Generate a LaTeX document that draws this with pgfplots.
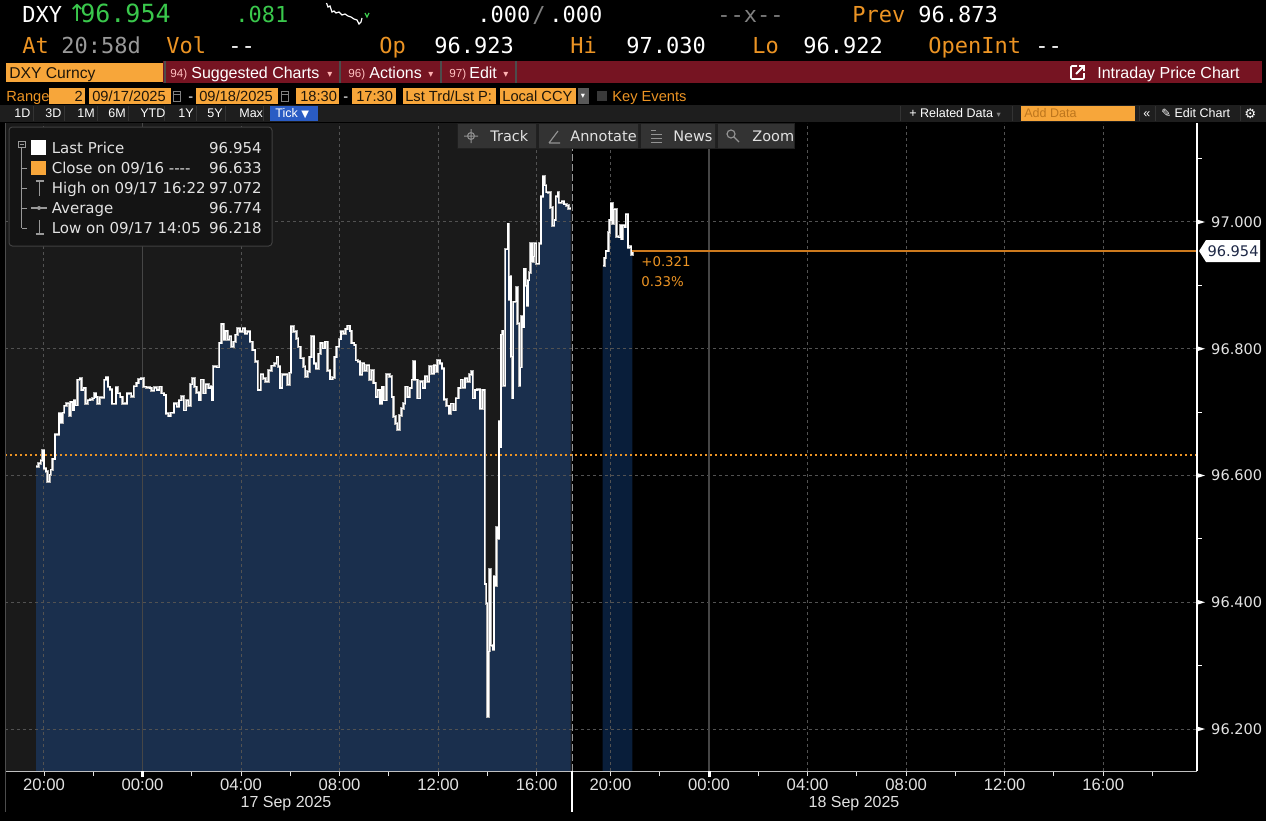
\documentclass[border=0pt]{standalone}
\usepackage{pgfplots}
\pgfplotsset{compat=1.18}
\usepackage{pgfplotstable}
\usepackage{fontspec}
\setmainfont{Liberation Sans}
\newfontfamily\dvs{DejaVu Sans}
\newfontfamily\mono{DejaVu Sans Mono}
\newcommand\fs[1]{\fontsize{#1}{#1}\selectfont}

\definecolor{bbOr}{RGB}{236,148,36}
\definecolor{bbLine}{RGB}{205,122,30}
\definecolor{bbBox}{RGB}{247,166,58}
\definecolor{bbGr}{RGB}{58,200,76}
\definecolor{bbRed}{RGB}{118,20,34}
\definecolor{bgL}{RGB}{26,26,26}
\definecolor{navyA}{RGB}{26,47,77}
\definecolor{navyB}{RGB}{9,30,58}
\definecolor{gridc}{RGB}{82,82,82}
\definecolor{txt}{RGB}{226,226,226}
\definecolor{strip}{RGB}{30,30,30}
\definecolor{tickblue}{RGB}{42,92,196}
\definecolor{boxtxt}{RGB}{30,22,10}
\definecolor{lbltxt}{RGB}{30,40,70}

\pgfplotstableread{
h v
-0.32 96.614
-0.23 96.619
-0.13 96.624
-0.07 96.640
0.00 96.611
0.08 96.606
0.15 96.590
0.22 96.601
0.28 96.609
0.35 96.626
0.45 96.665
0.61 96.698
0.69 96.683
0.76 96.699
0.82 96.710
0.92 96.714
1.02 96.695
1.08 96.716
1.15 96.703
1.22 96.719
1.29 96.711
1.37 96.751
1.46 96.753
1.53 96.735
1.60 96.738
1.69 96.714
1.77 96.719
1.87 96.720
1.96 96.722
2.04 96.730
2.11 96.724
2.18 96.714
2.25 96.723
2.34 96.723
2.44 96.751
2.52 96.755
2.60 96.740
2.68 96.736
2.76 96.713
2.85 96.713
2.92 96.739
3.00 96.730
3.09 96.724
3.18 96.713
3.29 96.714
3.37 96.729
3.46 96.730
3.54 96.725
3.65 96.741
3.76 96.746
3.84 96.752
3.94 96.753
4.03 96.740
4.17 96.739
4.28 96.738
4.37 96.734
4.47 96.739
4.58 96.735
4.68 96.740
4.78 96.730
4.87 96.727
4.95 96.698
5.05 96.694
5.14 96.699
5.28 96.714
5.39 96.709
5.48 96.719
5.59 96.725
5.68 96.703
5.77 96.719
5.86 96.710
5.94 96.744
6.02 96.753
6.12 96.740
6.20 96.731
6.29 96.719
6.37 96.751
6.47 96.730
6.57 96.744
6.67 96.738
6.77 96.741
6.82 96.719
6.87 96.772
7.01 96.771
7.11 96.809
7.21 96.839
7.28 96.814
7.35 96.828
7.44 96.814
7.52 96.819
7.60 96.803
7.69 96.811
7.78 96.822
7.86 96.832
7.96 96.827
8.07 96.832
8.16 96.824
8.25 96.827
8.36 96.811
8.46 96.798
8.57 96.780
8.68 96.735
8.80 96.759
8.90 96.753
9.00 96.748
9.11 96.766
9.24 96.773
9.35 96.777
9.45 96.787
9.51 96.772
9.58 96.738
9.67 96.759
9.78 96.759
9.88 96.743
9.96 96.762
10.03 96.835
10.12 96.827
10.26 96.816
10.32 96.803
10.42 96.785
10.53 96.772
10.60 96.756
10.69 96.764
10.77 96.787
10.87 96.819
10.96 96.777
11.04 96.769
11.14 96.792
11.23 96.809
11.32 96.801
11.41 96.811
11.50 96.766
11.61 96.752
11.71 96.755
11.79 96.787
11.88 96.803
11.98 96.815
12.06 96.827
12.15 96.824
12.25 96.831
12.33 96.836
12.42 96.828
12.49 96.809
12.59 96.806
12.66 96.782
12.74 96.780
12.83 96.759
12.92 96.777
13.00 96.766
13.10 96.774
13.20 96.751
13.28 96.766
13.37 96.746
13.47 96.724
13.55 96.735
13.64 96.714
13.72 96.740
13.80 96.719
13.91 96.760
14.02 96.756
14.12 96.724
14.18 96.693
14.28 96.682
14.34 96.672
14.43 96.695
14.51 96.706
14.59 96.714
14.66 96.740
14.75 96.724
14.83 96.738
14.93 96.751
14.99 96.780
15.06 96.751
15.16 96.722
15.27 96.748
15.38 96.738
15.47 96.756
15.56 96.748
15.64 96.772
15.74 96.761
15.83 96.774
15.92 96.764
15.98 96.782
16.08 96.777
16.16 96.769
16.24 96.720
16.35 96.710
16.44 96.698
16.52 96.713
16.62 96.703
16.72 96.722
16.82 96.738
16.92 96.751
17.00 96.739
17.09 96.753
17.19 96.748
17.27 96.759
17.34 96.764
17.41 96.722
17.50 96.735
17.59 96.736
17.70 96.706
17.80 96.735
17.88 96.732
17.90 96.429
17.95 96.398
18.01 96.220
18.05 96.323
18.08 96.452
18.14 96.332
18.22 96.326
18.27 96.441
18.32 96.426
18.38 96.518
18.43 96.501
18.47 96.685
18.51 96.645
18.55 96.822
18.61 96.828
18.66 96.742
18.72 96.957
18.79 96.957
18.83 96.997
18.87 96.877
18.92 96.914
18.96 96.788
19.01 96.722
19.05 96.874
19.14 96.874
19.19 96.897
19.23 96.840
19.29 96.742
19.33 96.771
19.38 96.851
19.44 96.834
19.49 96.926
19.54 96.900
19.60 96.868
19.65 96.908
19.70 96.920
19.76 96.966
19.81 96.937
19.87 96.946
19.92 96.966
19.98 96.934
20.04 96.934
20.10 96.966
20.18 97.040
20.26 97.072
20.33 97.058
20.39 97.047
20.49 97.046
20.56 97.023
20.64 96.994
20.71 97.003
20.78 97.040
20.86 97.046
20.90 97.030
21.02 97.032
21.11 97.028
21.22 97.026
21.30 97.021
21.38 97.021
}\dayone

\pgfplotstableread{
h v
22.68 96.931
22.75 96.943
22.81 96.954
22.91 96.983
22.95 97.003
23.02 97.029
23.07 96.997
23.13 97.020
23.20 97.020
23.25 96.977
23.33 96.976
23.39 96.994
23.45 96.973
23.50 96.994
23.56 96.992
23.62 97.012
23.68 97.012
23.71 96.960
23.80 96.961
23.84 96.949
23.89 96.954
}\daytwo

\begin{document}
\begin{tikzpicture}
\fill[black] (0,0) rectangle (759.6pt,-492.6pt);
\begin{scope}[x=0.6pt,y=-0.6pt]
% chart background (first session)
\fill[bgL] (5,123) rectangle (572,771);
% ---------- header row 1
\node[anchor=base west,inner sep=0,text=white,font=\mono\fs{13.2}] at (22,22) {DXY};
\node[anchor=base west,inner sep=0,text=bbGr,font=\dvs\fs{14}] at (67,21) {↑};
\node[anchor=base west,inner sep=0,text=bbGr,font=\mono\fs{15}] at (80,22) {96.954};
\node[anchor=base west,inner sep=0,text=bbGr,font=\mono\fs{13.2}] at (235,22) {.081};
\draw[white,line width=0.7pt] (326.5,3) -- (328,7) -- (330,6) -- (332,12) -- (334,11) -- (336,13) -- (339,12) -- (342,15) -- (345,14) -- (348,16) -- (351,17) -- (354,19) -- (357,20) -- (359,24) -- (361,22) -- (362,18);
\draw[bbGr,line width=0.7pt] (365,13) -- (367,17) -- (369,13);
\node[anchor=base west,inner sep=0,text=white,font=\mono\fs{13.2}] at (477,22) {.000};
\node[anchor=base west,inner sep=0,text=gray,font=\mono\fs{13.2}] at (532,22) {/};
\node[anchor=base west,inner sep=0,text=white,font=\mono\fs{13.2}] at (549,22) {.000};
\node[anchor=base west,inner sep=0,text=gray,font=\mono\fs{13.2}] at (717,22) {-{}-x-{}-};
\node[anchor=base west,inner sep=0,text=bbOr,font=\mono\fs{13.2}] at (852,22) {Prev};
\node[anchor=base west,inner sep=0,text=white,font=\mono\fs{13.2}] at (918,22) {96.873};
% ---------- header row 2
\node[anchor=base west,inner sep=0,text=bbOr,font=\mono\fs{13.2}] at (22,53) {At};
\node[anchor=base west,inner sep=0,text=gray!80,font=\mono\fs{13.2}] at (61,53) {20:58d};
\node[anchor=base west,inner sep=0,text=bbOr,font=\mono\fs{13.2}] at (166,53) {Vol};
\node[anchor=base west,inner sep=0,text=white,font=\mono\fs{13.2}] at (228,53) {-{}-};
\node[anchor=base west,inner sep=0,text=bbOr,font=\mono\fs{13.2}] at (379,53) {Op};
\node[anchor=base west,inner sep=0,text=white,font=\mono\fs{13.2}] at (434,53) {96.923};
\node[anchor=base west,inner sep=0,text=bbOr,font=\mono\fs{13.2}] at (570,53) {Hi};
\node[anchor=base west,inner sep=0,text=white,font=\mono\fs{13.2}] at (626,53) {97.030};
\node[anchor=base west,inner sep=0,text=bbOr,font=\mono\fs{13.2}] at (752,53) {Lo};
\node[anchor=base west,inner sep=0,text=white,font=\mono\fs{13.2}] at (803,53) {96.922};
\node[anchor=base west,inner sep=0,text=bbOr,font=\mono\fs{13.2}] at (928,53) {OpenInt};
\node[anchor=base west,inner sep=0,text=white,font=\mono\fs{13.2}] at (1035,53) {-{}-};
% ---------- row 3 : red menu bar
\fill[bbRed] (163,61) rectangle (1262,83);
\fill[bbBox] (6,63) rectangle (163,82);
\node[anchor=base west,inner sep=0,text=boxtxt,font=\fs{9.4}] at (9,78) {DXY Curncy};
\draw[black!70,line width=0.8pt] (340,61) -- (340,83) (441,61) -- (441,83) (516,61) -- (516,83) (165,61)--(165,83);
\node[anchor=base west,inner sep=0,text=red!25!white,font=\fs{7}] at (170,77) {94)};
\node[anchor=base west,inner sep=0,text=white,font=\fs{9.6}] at (191,78) {Suggested Charts};
\node[anchor=base west,inner sep=0,text=red!30!white,font=\dvs\fs{6}] at (327,77) {▾};
\node[anchor=base west,inner sep=0,text=red!25!white,font=\fs{7}] at (348,77) {96)};
\node[anchor=base west,inner sep=0,text=white,font=\fs{9.6}] at (369,78) {Actions};
\node[anchor=base west,inner sep=0,text=red!30!white,font=\dvs\fs{6}] at (428,77) {▾};
\node[anchor=base west,inner sep=0,text=red!25!white,font=\fs{7}] at (449,77) {97)};
\node[anchor=base west,inner sep=0,text=white,font=\fs{9.6}] at (469,78) {Edit};
\node[anchor=base west,inner sep=0,text=red!30!white,font=\dvs\fs{6}] at (503,77) {▾};
\draw[white,line width=1pt,rounded corners=0.6pt] (1077,66) -- (1071,66) -- (1071,79) -- (1084,79) -- (1084,73);
\draw[white,line width=1.1pt] (1076,74) -- (1084,66) (1079,66) -- (1084,66) -- (1084,71);
\node[anchor=base west,inner sep=0,text=white,font=\fs{9.6}] at (1097,78) {Intraday Price Chart};
% ---------- row 4
\node[anchor=base west,inner sep=0,text=bbOr,font=\fs{8.8}] at (6,101.5) {Range};
\fill[bbBox] (49,88) rectangle (85,104);
\node[anchor=base east,inner sep=0,text=boxtxt,font=\fs{8.8}] at (83,101.5) {2};
\fill[bbBox] (89,88) rectangle (171,104);
\node[anchor=base west,inner sep=0,text=boxtxt,font=\fs{8.8}] at (92,101.5) {09/17/2025};
\draw[gray,line width=0.6pt] (173,91) rectangle (180,101) (173,94)--(180,94);
\node[anchor=base west,inner sep=0,text=white,font=\fs{8.8}] at (188,101.5) {-};
\fill[bbBox] (196,88) rectangle (278,104);
\node[anchor=base west,inner sep=0,text=boxtxt,font=\fs{8.8}] at (199,101.5) {09/18/2025};
\draw[gray,line width=0.6pt] (281,91) rectangle (288,101) (281,94)--(288,94);
\fill[bbBox] (296,88) rectangle (339,104);
\node[anchor=base west,inner sep=0,text=boxtxt,font=\fs{8.8}] at (300,101.5) {18:30};
\node[anchor=base west,inner sep=0,text=white,font=\fs{8.8}] at (343,101.5) {-};
\fill[bbBox] (352,88) rectangle (396,104);
\node[anchor=base west,inner sep=0,text=boxtxt,font=\fs{8.8}] at (356,101.5) {17:30};
\fill[bbBox] (403,88) rectangle (496,104);
\node[anchor=base west,inner sep=0,text=boxtxt,font=\fs{8.8}] at (405,101.5) {Lst Trd/Lst P:};
\fill[bbBox] (500,88) rectangle (576,104);
\node[anchor=base west,inner sep=0,text=boxtxt,font=\fs{8.8}] at (502,101.5) {Local CCY};
\fill[gray!70!black] (578,88) rectangle (589,104);
\node[anchor=base west,inner sep=0,text=white,font=\dvs\fs{5}] at (580.5,98) {▾};
\fill[gray!45!black] (597,91) rectangle (607,101);
\node[anchor=base west,inner sep=0,text=bbOr,font=\fs{8.8}] at (612,101.5) {Key Events};
% ---------- row 5 strip
\fill[strip] (0,105) rectangle (1266,122);
\foreach \xx in {33,64,97,128,164,196,225,263,900,1012,1139,1155,1240}{\draw[black!80,line width=0.6pt] (\xx,106) -- (\xx,121);}
\node[anchor=base west,inner sep=0,text=white,font=\fs{7.5}] at (14,117.5) {1D};
\node[anchor=base west,inner sep=0,text=white,font=\fs{7.5}] at (45,117.5) {3D};
\node[anchor=base west,inner sep=0,text=white,font=\fs{7.5}] at (77,117.5) {1M};
\node[anchor=base west,inner sep=0,text=white,font=\fs{7.5}] at (108,117.5) {6M};
\node[anchor=base west,inner sep=0,text=white,font=\fs{7.5}] at (140,117.5) {YTD};
\node[anchor=base west,inner sep=0,text=white,font=\fs{7.5}] at (178,117.5) {1Y};
\node[anchor=base west,inner sep=0,text=white,font=\fs{7.5}] at (207,117.5) {5Y};
\node[anchor=base west,inner sep=0,text=white,font=\fs{7.5}] at (239,117.5) {Max};
\fill[tickblue] (270,106) rectangle (318,121);
\node[anchor=base west,inner sep=0,text=white,font=\fs{7.5}] at (275,117.5) {Tick \dvs\fs{6}▼};
\node[anchor=base west,inner sep=0,text=white,font=\fs{7.5}] at (909,117.5) {+ Related Data \textcolor{gray}{\dvs\fs{5}▾}};
\fill[bbBox] (1021,106) rectangle (1135,121);
\node[anchor=base west,inner sep=0,text=bbOr!80!black,font=\fs{7.5}] at (1024,117.5) {Add Data};
\node[anchor=base west,inner sep=0,text=white,font=\fs{7.5}] at (1143,117.5) {«};
\node[anchor=base west,inner sep=0,text=white,font=\fs{7.5}] at (1161,117.5) {{\dvs\fs{7}✎} Edit Chart};
\node[anchor=base west,inner sep=0,text=white,font=\dvs\fs{8}] at (1244,118) {⚙};
\end{scope}

\begin{axis}[
  at={(3pt,-462.6pt)}, anchor=south west,
  scale only axis, width=715.2pt, height=388.8pt,
  xmin=-1.583, xmax=46.81, ymin=96.134, ymax=97.156,
  clip=true,
  axis line style={draw=none},
  tick align=outside,
  xtick pos=bottom, ytick pos=right,
  xtick={0,4,8,12,16,20,23,27,31,35,39,43},
  xticklabels={20:00,00:00,04:00,08:00,12:00,16:00,20:00,00:00,04:00,08:00,12:00,16:00},
  minor xtick={2,6,10,14,18,25,29,33,37,41,45},
  major tick length=3pt, minor tick length=3pt,
  xtick style={draw=txt, line width=0.5pt},
  minor tick style={draw=txt, line width=0.5pt},
  ytick={96.2,96.4,96.6,96.8,97.0},
  ytick style={draw=none},
  yticklabel pos=right,
  /pgf/number format/assume math mode=true,
  yticklabel style={/pgf/number format/fixed, /pgf/number format/fixed zerofill, /pgf/number format/precision=3, anchor=west, font=\dvs\fs{8.75}, text=txt, xshift=2pt},
  xticklabel style={font=\fs{10}, text=txt, yshift=2pt},
]
% area fills
\addplot[const plot, fill=navyA, draw=none, forget plot] table[x=h,y=v]{\dayone} \closedcycle;
\addplot[const plot, fill=navyB, draw=none, forget plot] table[x=h,y=v]{\daytwo} \closedcycle;
% grid
\pgfplotsinvokeforeach{96.2,96.4,96.6,96.8,97.0}{\draw[gridc, line width=0.6pt, dash pattern=on 1.8pt off 1.8pt] (axis cs:-1.583,#1) -- (axis cs:46.81,#1);}
\pgfplotsinvokeforeach{0,8,12,16,20,23,31,35,39,43}{\draw[gridc, line width=0.6pt, dash pattern=on 1.8pt off 1.8pt] (axis cs:#1,96.134) -- (axis cs:#1,97.156);}
\pgfplotsinvokeforeach{4,27}{\draw[gray!55!black, line width=0.8pt] (axis cs:#1,96.134) -- (axis cs:#1,97.156);}
\draw[gray!80, line width=0.9pt, dash pattern=on 4pt off 2pt] (axis cs:21.45,96.134) -- (axis cs:21.45,97.156);
% close of 09/16
\addplot[bbOr, line width=1.3pt, dash pattern=on 1.2pt off 1.8pt] coordinates {(-1.583,96.633) (46.81,96.633)};
% price series
\addplot[const plot, gray!60, line width=1.5pt] table[x=h,y=v]{\dayone};
\addplot[const plot, white, line width=0.7pt] table[x=h,y=v]{\dayone};
\addplot[const plot, gray!60, line width=1.5pt] table[x=h,y=v]{\daytwo};
\addplot[const plot, white, line width=0.7pt] table[x=h,y=v]{\daytwo};
% last price line
\addplot[bbLine, line width=0.9pt] coordinates {(23.89,96.954) (46.81,96.954)};
\end{axis}

\begin{scope}[x=0.6pt,y=-0.6pt]
% axis lines
\draw[txt!85!black, line width=0.6pt] (5,771) -- (1197,771);
\draw[gray!60!black, line width=0.6pt] (5,123) -- (5,812);
\draw[white, line width=0.8pt] (1197,123) -- (1197,771);
\draw[white, line width=0.8pt] (572,771) -- (572,812);
\fill[white] (141,771) rectangle (144,777);
\fill[white] (708,771) rectangle (711,777);
% y tick markers
\foreach \yy in {222,348.75,475.5,602.25,729}{\fill[white] (1197,\yy-2.5) -- (1205,\yy) -- (1197,\yy+2.5) -- cycle;}
\foreach \yy in {158.6,285.4,412.1,538.9,665.6}{\draw[white,line width=0.6pt] (1197,\yy) -- (1202,\yy);}
% last price label
\fill[white] (1199,251) -- (1206,240) -- (1260,240) -- (1260,262) -- (1206,262) -- cycle;
\node[inner sep=0,text=lbltxt,font=\dvs\fs{8.75}] at (1233,251) {96.954};
\node[anchor=west,inner sep=0,text=bbOr,font=\dvs\fs{8}] at (641,262) {+0.321};
\node[anchor=west,inner sep=0,text=bbOr,font=\dvs\fs{8}] at (641,282) {0.33\%};
% date labels
\node[text=txt,font=\fs{9.6},inner sep=0] at (286,804) {17 Sep 2025};
\node[text=txt,font=\fs{9.6},inner sep=0] at (854,804) {18 Sep 2025};
% legend
\draw[fill=black!92, draw=black!75, rounded corners=2pt, line width=0.6pt] (9,127) rectangle (272,246);
\draw[gray!80, line width=0.5pt] (18.5,141) rectangle (25,147.5) (20,144.25) -- (23.5,144.25);
\draw[gray!80, line width=0.5pt] (21.75,147.5) -- (21.75,228);
\foreach \yy in {168,188,208,228}{\draw[gray!80, line width=0.5pt] (21.75,\yy) -- (27,\yy);}
\fill[white] (31,140) rectangle (46,155);
\fill[bbBox] (31,161) rectangle (46,175);
\draw[gray!80, line width=0.8pt] (35.5,181) -- (43.5,181) (39.5,181) -- (39.5,196);
\draw[gray!80, line width=0.8pt] (31,208) -- (47,208);
\fill[gray!80] (39,208) circle (2);
\draw[gray!80, line width=0.8pt] (39.5,220) -- (39.5,234) (35.5,234) -- (43.5,234);
\node[anchor=base west,inner sep=0,text=txt,font=\dvs\fs{9}] at (51.5,153.5) {Last Price};
\node[anchor=base west,inner sep=0,text=txt,font=\dvs\fs{9}] at (51.5,173.5) {Close on 09/16 -{}-{}-{}-};
\node[anchor=base west,inner sep=0,text=txt,font=\dvs\fs{9}] at (51.5,193.5) {High on 09/17 16:22};
\node[anchor=base west,inner sep=0,text=txt,font=\dvs\fs{9}] at (51.5,213.5) {Average};
\node[anchor=base west,inner sep=0,text=txt,font=\dvs\fs{9}] at (51.5,233.5) {Low on 09/17 14:05};
\node[anchor=base east,inner sep=0,text=txt,font=\dvs\fs{9}] at (262,153.5) {96.954};
\node[anchor=base east,inner sep=0,text=txt,font=\dvs\fs{9}] at (262,173.5) {96.633};
\node[anchor=base east,inner sep=0,text=txt,font=\dvs\fs{9}] at (262,193.5) {97.072};
\node[anchor=base east,inner sep=0,text=txt,font=\dvs\fs{9}] at (262,213.5) {96.774};
\node[anchor=base east,inner sep=0,text=txt,font=\dvs\fs{9}] at (262,233.5) {96.218};
% chart tool overlay
\fill[black!88] (457,123) rectangle (795,149);
\fill[black!80] (458,124) rectangle (536,148) (539,124) rectangle (638,148) (641,124) rectangle (715,148) (718,124) rectangle (794,148);
\draw[gray!85, line width=0.6pt] (471,136) circle (3.5) (464,136) -- (478,136) (471,129) -- (471,143);
\draw[gray!85, line width=0.7pt] (549,143) -- (558,131) (549,143) -- (560,143);
\draw[gray!85, line width=1pt] (651,130.5) -- (656,130.5) (651,134.5) -- (662,134.5) (651,138.5) -- (662,138.5) (651,142.5) -- (662,142.5);
\draw[gray!85, line width=0.7pt] (731,134) circle (4) (734,137) -- (739,142);
\node[anchor=base west,inner sep=0,text=txt,font=\dvs\fs{8.7}] at (490,141) {Track};
\node[anchor=base west,inner sep=0,text=txt,font=\dvs\fs{8.7}] at (570,141) {Annotate};
\node[anchor=base west,inner sep=0,text=txt,font=\dvs\fs{8.7}] at (673,141) {News};
\node[anchor=base west,inner sep=0,text=txt,font=\dvs\fs{8.7}] at (752,141) {Zoom};
\end{scope}
\pgfresetboundingbox
\path[use as bounding box] (0,0) rectangle (759.6pt,-492.6pt);
\end{tikzpicture}
\end{document}
